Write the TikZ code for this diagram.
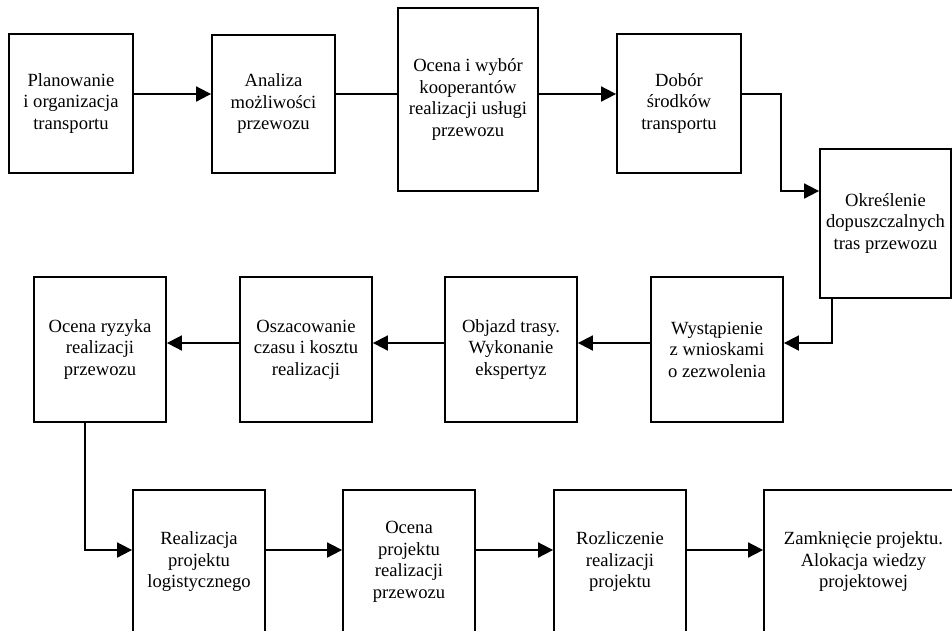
\documentclass[tikz,border=0pt]{standalone}
\usepackage{fontspec}
\setmainfont{Liberation Serif}
\usetikzlibrary{arrows.meta}
\tikzset{
  box/.style={draw, line width=1.8pt, inner sep=0pt, align=center,
    font=\fontsize{18.6}{21.5}\selectfont},
  arr/.style={line width=1.8pt, -{Triangle[length=15pt,width=15pt]}},
  ln/.style={line width=1.8pt}
}
\begin{document}
\begin{tikzpicture}[x=1pt,y=-1pt]
\useasboundingbox (0,0) rectangle (952,630);
\clip (0,0) rectangle (952,630);
% row 1
\node[box, minimum width=124pt, minimum height=139pt] (b1) at (71,103.5) {Planowanie\\i organizacja\\transportu};
\node[box, minimum width=123pt, minimum height=138pt] (b2) at (273.5,104) {Analiza\\możliwości\\przewozu};
\node[box, minimum width=140pt, minimum height=183pt] (b3) at (468,99.5) {Ocena i wybór\\kooperantów\\realizacji usługi\\przewozu};
\node[box, minimum width=124pt, minimum height=139pt] (b4) at (679,103.5) {Dobór\\środków\\transportu};
\node[box, minimum width=131pt, minimum height=149pt] (b5) at (885.5,223.5) {Określenie\\dopuszczalnych\\tras przewozu};
% row 2
\node[box, minimum width=132pt, minimum height=145pt] (b6) at (717,349.5) {Wystąpienie\\z wnioskami\\o zezwolenia};
\node[box, minimum width=132pt, minimum height=145pt] (b7) at (511,349.5) {Objazd trasy.\\Wykonanie\\ekspertyz};
\node[box, minimum width=132pt, minimum height=145pt] (b8) at (306,349.5) {Oszacowanie\\czasu i kosztu\\realizacji};
\node[box, minimum width=132pt, minimum height=145pt] (b9) at (100,349.5) {Ocena ryzyka\\realizacji\\przewozu};
% row 3
\node[box, minimum width=132pt, minimum height=144pt] (b10) at (199,562) {Realizacja\\projektu\\logistycznego};
\node[box, minimum width=132pt, minimum height=144pt] (b11) at (409,562) {Ocena\\projektu\\realizacji\\przewozu};
\node[box, minimum width=132pt, minimum height=144pt] (b12) at (620,562) {Rozliczenie\\realizacji\\projektu};
\node[box, minimum width=199pt, minimum height=144pt] (b13) at (863.5,562) {Zamknięcie projektu.\\Alokacja wiedzy\\projektowej};
% helper coordinates
\coordinate (r1) at (0,94);
\coordinate (r2) at (0,343);
\coordinate (r3) at (0,550);
\coordinate (c45) at (781,94);
\coordinate (c45b) at (781,191);
\coordinate (c56) at (832,343);
\coordinate (c910) at (85,550);
% connectors
\draw[arr] (b1.east |- r1) -- (b2.west |- r1);
\draw[ln] (b2.east |- r1) -- (b3.west |- r1);
\draw[arr] (b3.east |- r1) -- (b4.west |- r1);
\draw[arr] (b4.east |- r1) -- (c45) -- (c45b) -- (b5.west |- c45b);
\draw[arr] (b5.south -| c56) -- (c56) -- (b6.east |- c56);
\draw[arr] (b6.west |- r2) -- (b7.east |- r2);
\draw[arr] (b7.west |- r2) -- (b8.east |- r2);
\draw[arr] (b8.west |- r2) -- (b9.east |- r2);
\draw[arr] (b9.south -| c910) -- (c910) -- (b10.west |- c910);
\draw[arr] (b10.east |- r3) -- (b11.west |- r3);
\draw[arr] (b11.east |- r3) -- (b12.west |- r3);
\draw[arr] (b12.east |- r3) -- (b13.west |- r3);
\end{tikzpicture}
\end{document}
